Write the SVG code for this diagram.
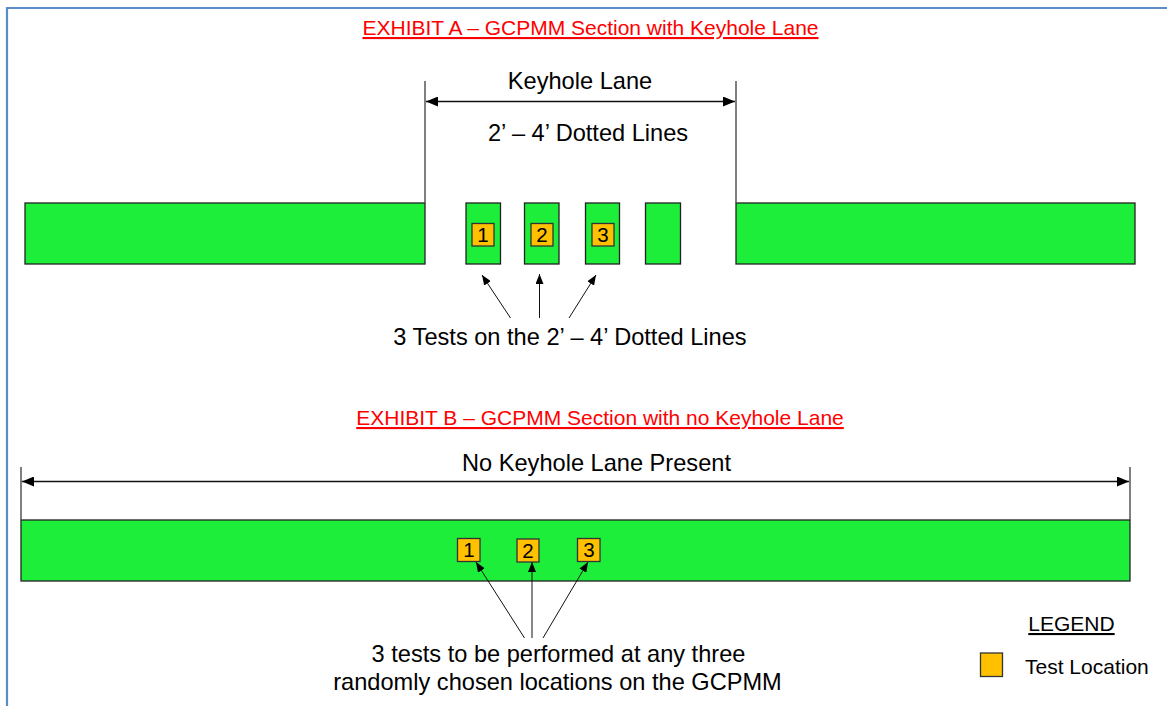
<svg xmlns="http://www.w3.org/2000/svg" width="1167" height="706" viewBox="0 0 1167 706">
  <style>
    .lane { fill: #1cee3a; stroke: #222; stroke-width: 1.3; }
    .test { fill: #ffc000; stroke: #333; stroke-width: 1.3; }
    .num { font-family: "Liberation Sans", Arial, sans-serif; font-size: 20.5px; fill: #000; text-anchor: middle; }
    .lbl { font-family: "Liberation Sans", Arial, sans-serif; font-size: 23.6px; fill: #000; text-anchor: middle; }
    .title { font-family: "Liberation Sans", Arial, sans-serif; font-size: 21px; fill: #ff0000; text-anchor: middle; text-decoration: underline; }
    .legend { font-family: "Liberation Sans", Arial, sans-serif; font-size: 21px; fill: #000; }
    .ext { stroke: #555; stroke-width: 1.5; }
    .dim { stroke: #111; stroke-width: 1.5; fill: none; }
    .ptr { stroke: #111; stroke-width: 1; fill: none; }
  </style>
  <defs>
    <marker id="bigHead" viewBox="0 0 12 10" refX="12" refY="5" markerWidth="12" markerHeight="10" markerUnits="userSpaceOnUse" orient="auto-start-reverse">
      <path d="M0,0 L12,5 L0,10 Z" fill="#000"/>
    </marker>
    <marker id="smallHead" viewBox="0 0 10 8" refX="10" refY="4" markerWidth="10" markerHeight="8" markerUnits="userSpaceOnUse" orient="auto">
      <path d="M0,0 L10,4 L0,8 Z" fill="#000"/>
    </marker>
  </defs>

  <rect width="1167" height="706" fill="#fff"/>
  <!-- page frame -->
  <path d="M7,706 V8 H1167" fill="none" stroke="#5b8cc8" stroke-width="2.2"/>

  <!-- Exhibit A -->
  <g id="exhibit-a">
    <text class="title" x="590.5" y="35">EXHIBIT A – GCPMM Section with Keyhole Lane</text>
    <text class="lbl" x="580" y="89">Keyhole Lane</text>
    <text class="lbl" x="588" y="141">2’ – 4’ Dotted Lines</text>
    <g id="a-left-lane"><rect class="lane" x="25" y="203" width="400" height="61"/></g>
    <g id="a-right-lane"><rect class="lane" x="736" y="203" width="399" height="61"/></g>
    <g id="a-dot-1">
      <rect class="lane" x="466" y="203" width="34.5" height="61"/>
      <rect class="test" x="472" y="223.5" width="22" height="22.5"/>
      <text class="num" x="483" y="242">1</text>
    </g>
    <g id="a-dot-2">
      <rect class="lane" x="524.5" y="203" width="34.5" height="61"/>
      <rect class="test" x="531" y="223.5" width="22" height="22.5"/>
      <text class="num" x="542" y="242">2</text>
    </g>
    <g id="a-dot-3">
      <rect class="lane" x="585.5" y="203" width="34" height="61"/>
      <rect class="test" x="592" y="223.5" width="22" height="22.5"/>
      <text class="num" x="603" y="242">3</text>
    </g>
    <g id="a-dot-4"><rect class="lane" x="645.5" y="203" width="35" height="61"/></g>
    <text class="lbl" x="570" y="345">3 Tests on the 2’ – 4’ Dotted Lines</text>
  </g>

  <!-- Exhibit B -->
  <g id="exhibit-b">
    <text class="title" x="600" y="425">EXHIBIT B – GCPMM Section with no Keyhole Lane</text>
    <text class="lbl" x="596.5" y="471">No Keyhole Lane Present</text>
    <g id="b-lane"><rect class="lane" x="21" y="520" width="1109" height="61"/></g>
    <g id="b-test-1">
      <rect class="test" x="457.5" y="538.5" width="22.5" height="23"/>
      <text class="num" x="469" y="557">1</text>
    </g>
    <g id="b-test-2">
      <rect class="test" x="517" y="539" width="22" height="23"/>
      <text class="num" x="528" y="558">2</text>
    </g>
    <g id="b-test-3">
      <rect class="test" x="577.5" y="538.5" width="22.5" height="23"/>
      <text class="num" x="589" y="557">3</text>
    </g>
    <text class="lbl" x="558.5" y="662">3 tests to be performed at any three</text>
    <text class="lbl" x="557.5" y="690">randomly chosen locations on the GCPMM</text>
  </g>

  <!-- Legend -->
  <g id="legend">
    <text class="legend" x="1071.5" y="631" text-anchor="middle" text-decoration="underline">LEGEND</text>
    <rect class="test" x="980.5" y="653" width="22" height="23.5"/>
    <text class="legend" x="1025" y="674">Test Location</text>
  </g>

  <!-- connectors -->
  <g id="connectors">
    <line class="ext" x1="425" y1="81" x2="425" y2="203"/>
    <line class="ext" x1="736" y1="81" x2="736" y2="203"/>
    <line class="dim" x1="426" y1="101.5" x2="735" y2="101.5" marker-start="url(#bigHead)" marker-end="url(#bigHead)"/>
    <line class="ptr" x1="510.5" y1="318" x2="482" y2="275" marker-end="url(#smallHead)"/>
    <line class="ptr" x1="539.5" y1="318" x2="539.5" y2="274" marker-end="url(#smallHead)"/>
    <line class="ptr" x1="569" y1="318" x2="596" y2="275" marker-end="url(#smallHead)"/>

    <line class="ext" x1="21" y1="467" x2="21" y2="520"/>
    <line class="ext" x1="1130" y1="467" x2="1130" y2="520"/>
    <line class="dim" x1="22" y1="481.5" x2="1129" y2="481.5" marker-start="url(#bigHead)" marker-end="url(#bigHead)"/>
    <line class="ptr" x1="524.5" y1="638" x2="476" y2="562" marker-end="url(#smallHead)"/>
    <line class="ptr" x1="532" y1="638" x2="532" y2="562" marker-end="url(#smallHead)"/>
    <line class="ptr" x1="543" y1="638" x2="588" y2="562" marker-end="url(#smallHead)"/>
  </g>
</svg>
